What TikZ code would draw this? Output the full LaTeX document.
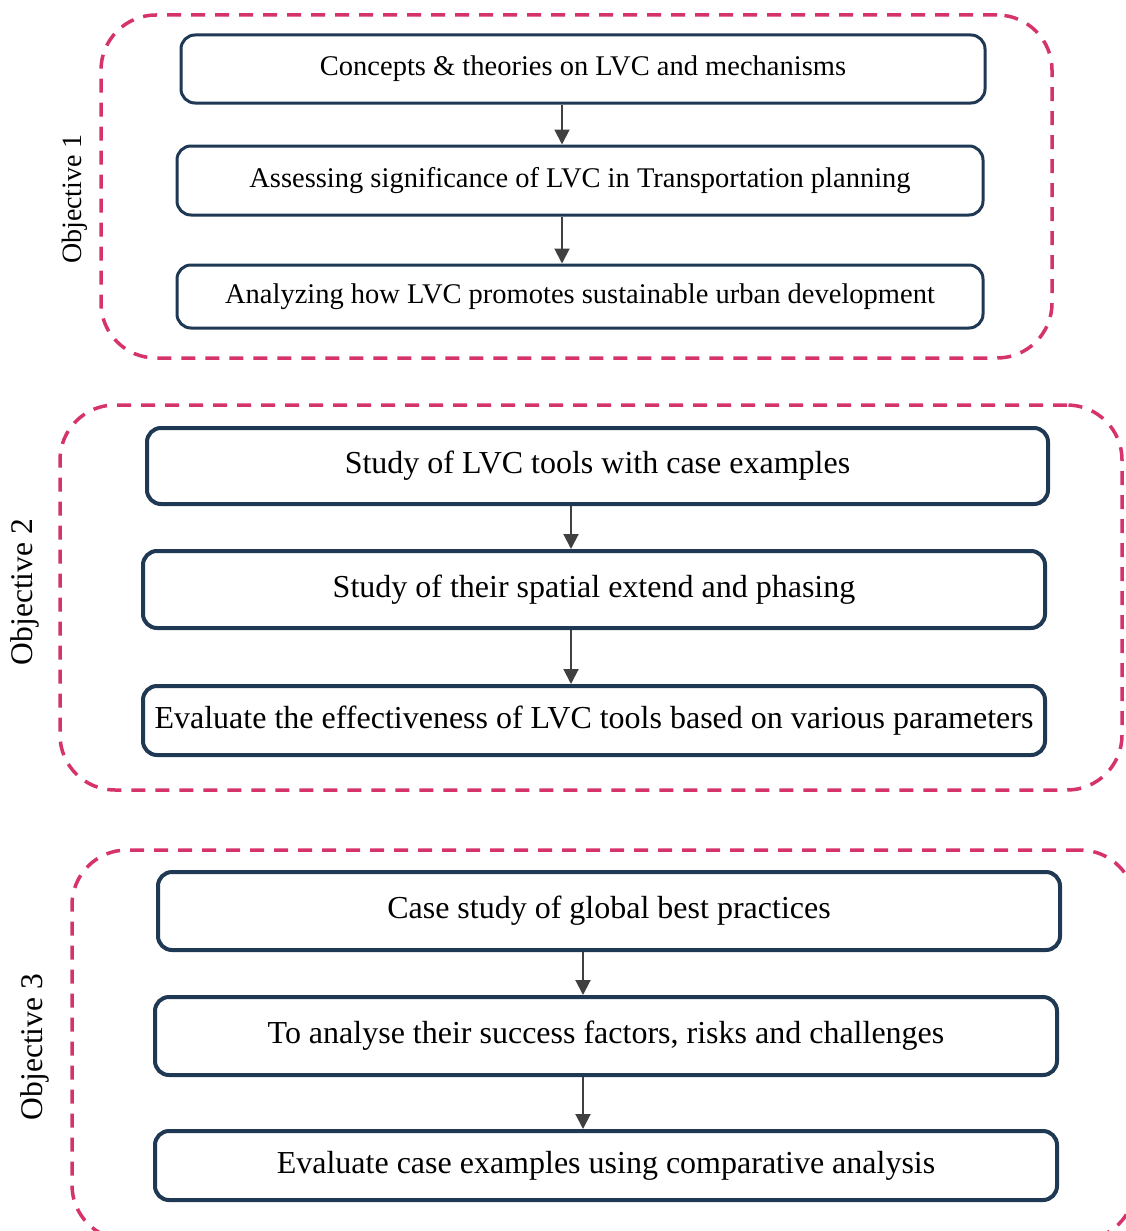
\documentclass[tikz,border=0pt]{standalone}
\usepackage{fontspec}
\setmainfont{Liberation Serif}
\usetikzlibrary{arrows.meta, positioning}
\definecolor{framecol}{HTML}{D6336C}
\definecolor{boxcol}{HTML}{1F3854}
\definecolor{arrowcol}{HTML}{404040}
\tikzset{
  objframe/.style={rectangle, draw=framecol, line width=3.5pt, dash pattern=on 14pt off 10pt, rounded corners=55pt},
  taskbox/.style={rectangle, draw=boxcol, line width=4pt, rounded corners=14pt, fill=white, inner sep=2pt, font=\fontsize{32}{38}\selectfont},
  smallbox/.style={taskbox, line width=3pt, font=\fontsize{28.5}{34}\selectfont},
  objlabel/.style={rotate=90, inner sep=0pt, font=\fontsize{31.5}{38}\selectfont},
  flow/.style={-{Triangle[length=15pt,width=15pt]}, draw=arrowcol, line width=2pt},
}

\begin{document}
\begin{tikzpicture}[x=1pt, y=-1pt]
  \useasboundingbox (0,0) rectangle (1126,1231);
  \clip (0,0) rectangle (1126,1231);

  % objective 1
  \node[objframe, minimum width=951pt, minimum height=343pt] (obj1) at (576.5,186.5) {};
  \node[objlabel, font=\fontsize{28}{34}\selectfont] (lab1) at (75,199) {Objective 1};
  \node[smallbox, minimum width=804pt, minimum height=68pt] (b11) at (583,69) {Concepts \& theories on LVC and mechanisms};
  \node[smallbox, minimum width=806pt, minimum height=69pt] (b12) at (580,180.5) {Assessing significance of LVC in Transportation planning};
  \node[smallbox, minimum width=806pt, minimum height=63pt] (b13) at (580,296.5) {Analyzing how LVC promotes sustainable urban development};
  \coordinate (ax1) at (562,0);
  \draw[flow] (b11.south -| ax1) -- (b12.north -| ax1);
  \draw[flow] (b12.south -| ax1) -- (b13.north -| ax1);

  % objective 2
  \node[objframe, minimum width=1062pt, minimum height=385pt] (obj2) at (591,597.5) {};
  \node[objlabel] (lab2) at (25,592) {Objective 2};
  \node[taskbox, minimum width=901pt, minimum height=76pt] (b21) at (597.5,466) {Study of LVC tools with case examples};
  \node[taskbox, minimum width=902pt, minimum height=77pt] (b22) at (594,589.5) {Study of their spatial extend and phasing};
  \node[taskbox, minimum width=902pt, minimum height=69pt] (b23) at (594,720.5) {Evaluate the effectiveness of LVC tools based on various parameters};
  \coordinate (ax2) at (571,0);
  \draw[flow] (b21.south -| ax2) -- (b22.north -| ax2);
  \draw[flow] (b22.south -| ax2) -- (b23.north -| ax2);

  % objective 3
  \node[objframe, minimum width=1063pt, minimum height=390pt] (obj3) at (603.5,1045) {};
  \node[objlabel] (lab3) at (35,1047) {Objective 3};
  \node[taskbox, minimum width=902pt, minimum height=78pt] (b31) at (609,911) {Case study of global best practices};
  \node[taskbox, minimum width=902pt, minimum height=78pt] (b32) at (606,1036) {To analyse their success factors, risks and challenges};
  \node[taskbox, minimum width=902pt, minimum height=69pt] (b33) at (606,1165.5) {Evaluate case examples using comparative analysis};
  \coordinate (ax3) at (583,0);
  \draw[flow] (b31.south -| ax3) -- (b32.north -| ax3);
  \draw[flow] (b32.south -| ax3) -- (b33.north -| ax3);
\end{tikzpicture}
\end{document}
